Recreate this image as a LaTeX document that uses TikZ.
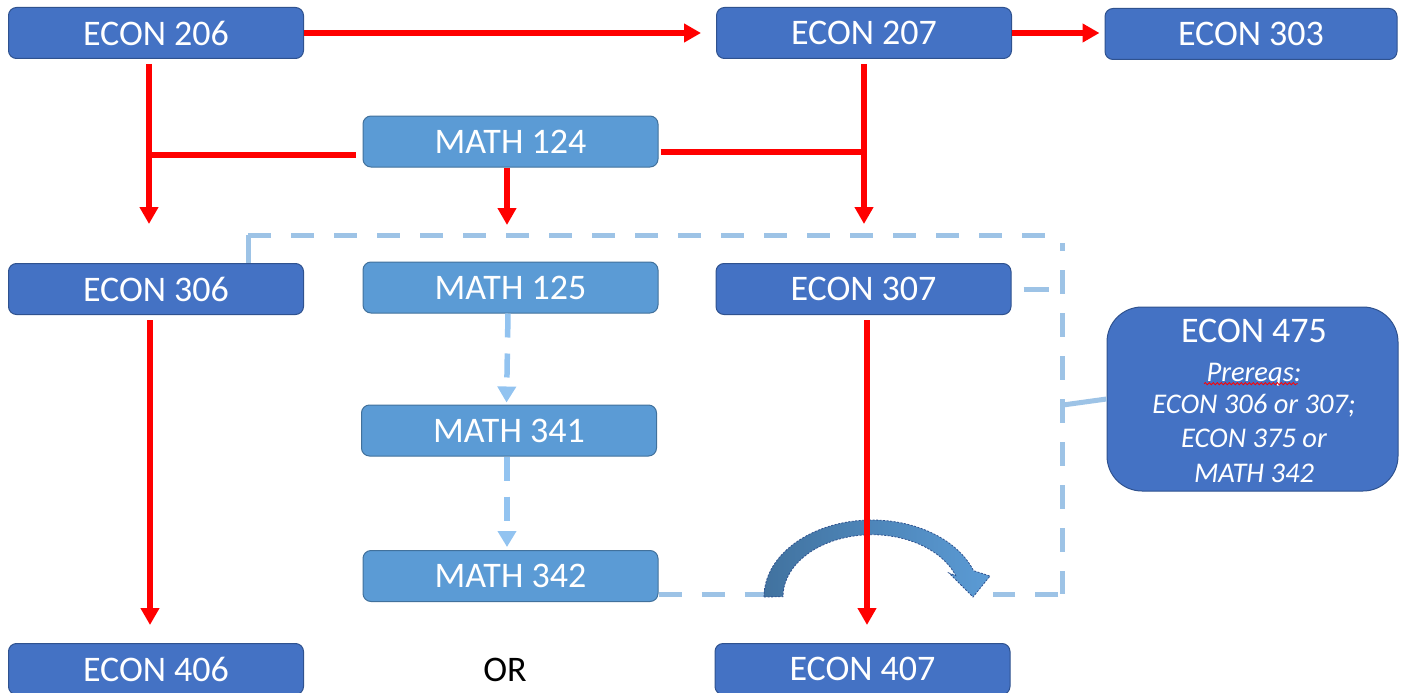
\documentclass[tikz,border=0pt]{standalone}
\usepackage{fontspec}
\setmainfont{Carlito}
\usetikzlibrary{arrows.meta,decorations.pathmorphing}
\definecolor{dkbox}{HTML}{4472C4}
\definecolor{dkedge}{HTML}{2F528F}
\definecolor{ltbox}{HTML}{5B9BD5}
\definecolor{ltedge}{HTML}{41719C}
\definecolor{dashblue}{HTML}{9DC3E6}
\definecolor{arrowblue}{HTML}{92C3F0}
\definecolor{curvedk}{HTML}{41729F}
\definecolor{curvelt}{HTML}{5B9BD5}
\begin{document}
\begin{tikzpicture}[x=1pt,y=1pt,
 econ/.style={draw=dkedge, line width=1pt, fill=dkbox, rounded corners=8pt, minimum width=295pt, minimum height=51pt, inner sep=0pt, text=white, font=\fontsize{36}{40}\selectfont},
 mathbox/.style={econ, draw=ltedge, fill=ltbox},
 redarrow/.style={draw=red, line width=5.5pt, -{Triangle[length=17pt,width=18pt]}},
 redline/.style={draw=red, line width=5.5pt},
 bluedash/.style={draw=dashblue, line width=5pt, dash pattern=on 23pt off 20pt},
 bluesolid/.style={draw=dashblue, line width=5pt},
 bluearrow/.style={draw=arrowblue, line width=5.5pt, dash pattern=on 24pt off 16pt, -{Triangle[length=16pt,width=18pt]}},
 title475/.style={text=white, font=\fontsize{36}{40}\selectfont, anchor=base},
 line475/.style={text=white, font=\fontsize{28.5}{32}\selectfont\itshape, anchor=base}
]
\useasboundingbox (0,0) rectangle (1403,-693);
\clip (0,0) rectangle (1403,-693);

% boxes
\node[econ] (e206) at (156,-33) {ECON 206};
\node[econ] (e207) at (864,-33) {ECON 207};
\node[econ, minimum width=292pt] (e303) at (1251,-34) {ECON 303};
\node[mathbox] (m124) at (510.5,-141.5) {MATH 124};
\node[econ] (e306) at (156,-289) {ECON 306};
\node[mathbox] (m125) at (510.5,-287.5) {MATH 125};
\node[econ] (e307) at (863.5,-289) {ECON 307};
\node[mathbox] (m341) at (509,-430.5) {MATH 341};
\node[mathbox] (m342) at (510.5,-576) {MATH 342};
\node[econ] (e406) at (156,-669) {ECON 406};
\node[econ] (e407) at (862.5,-669) {ECON 407};
\node[font=\fontsize{36}{40}\selectfont, inner sep=0pt] (or) at (505,-670) {OR};
\node[econ, rounded corners=35pt, minimum width=291pt, minimum height=184pt] (e475) at (1252.5,-399) {};
\node[title475] (t475a) at (1254,-342.6) {ECON 475};
\node[line475] (t475b) at (1254,-381.2) {Prereqs:};
\node[line475] (t475c) at (1254,-413.2) {ECON 306 or 307;};
\node[line475] (t475d) at (1254,-447.2) {ECON 375 or};
\node[line475] (t475e) at (1254,-482.2) {MATH 342};
\draw[red, line width=0.8pt, decorate, decoration={snake, segment length=4pt, amplitude=1.1pt}] ([xshift=1pt,yshift=-2.5pt]t475b.base west) -- ([xshift=-7pt,yshift=-2.5pt]t475b.base east);

% coordinates
\coordinate (j1) at (149,-155);
\coordinate (j2) at (864,-152);
\coordinate (t306) at (149,-224);
\coordinate (t125) at (507,-225);
\coordinate (t307) at (864,-224);
\coordinate (t406) at (150,-625);
\coordinate (t407) at (867,-625);
\coordinate (c1) at (248,-235);
\coordinate (c2) at (1049,-235);
\coordinate (c3) at (1062,-243);
\coordinate (c4) at (1062,-594);
\coordinate (c5) at (1058,-594);
\coordinate (c6) at (993,-594);
\coordinate (c7) at (765,-594);
\coordinate (c8) at (1063,-405);

% light blue dashed connectors
\draw[bluesolid] ([xshift=92pt]e306.north) -- (c1);
\draw[bluedash] (c1) -- (c2);
\draw[draw=dashblue, line width=5pt, dash pattern=on 24pt off 19pt, dash phase=16pt] (c3) -- (c4);
\draw[bluedash] (c5) -- (c6);
\draw[bluedash] ([yshift=-18pt]m342.east) -- (c7);
\draw[bluesolid] ([xshift=12pt]e307.east) -- ([xshift=37pt]e307.east);
\draw[bluesolid] (c8) -- (e475.west);
\draw[bluearrow, shorten >=2pt] ([xshift=-2.5pt]m125.south) -- ([xshift=-2.5pt]m341.north);
\draw[bluearrow, shorten >=3pt] ([xshift=-2pt]m341.south) -- ([xshift=-3.5pt]m342.north);

% curved arrow
\shadedraw[left color=curvedk, right color=curvelt, draw=dkedge, line width=0.8pt, dash pattern=on 2pt off 1.5pt]
  (764,-597) arc[start angle=180, end angle=20, x radius=108, y radius=77]
  -- (990,-576) -- (973,-597) -- (949,-573)
  -- (955.6,-575.5) arc[start angle=20, end angle=180, x radius=89, y radius=62] -- cycle;

% red connectors
\draw[redarrow, shorten >=15pt] (e206.east) -- (e207.west);
\draw[redarrow, shorten >=5pt] (e207.east) -- (e207.east -| e303.west);
\draw[redarrow] ([xshift=-7pt,yshift=-5pt]e206.south) -- (t306);
\draw[redline, shorten <=7pt] ([yshift=-13.5pt]m124.west) -- (j1);
\draw[redline, shorten <=2pt] ([yshift=-10.5pt]m124.east) -- (j2);
\draw[redarrow] ([xshift=-3.5pt]m124.south) -- (t125);
\draw[redarrow] ([yshift=-5pt]e207.south) -- (t307);
\draw[redarrow] ([xshift=-6pt,yshift=-5pt]e306.south) -- (t406);
\draw[redarrow] ([xshift=3.5pt,yshift=-5pt]e307.south) -- (t407);
\end{tikzpicture}
\end{document}
